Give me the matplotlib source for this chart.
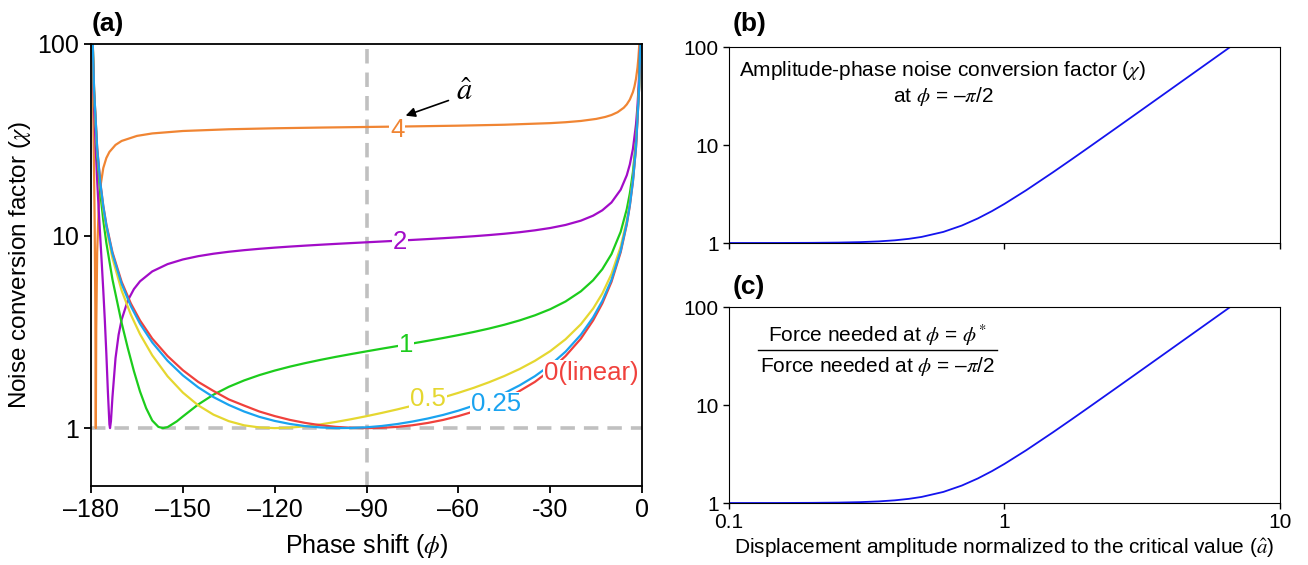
import matplotlib.pyplot as plt
from matplotlib.lines import Line2D

plt.rcParams['font.family'] = ['Liberation Sans', 'DejaVu Sans']
plt.rcParams['mathtext.fontset'] = 'stix'

# ---- panel (a): phase shift (deg) vs noise conversion factor
phi_grid = [-179.5, -179.4, -179, -178, -177, -176, -175, -173, -170, -167,
            -164, -160, -155, -150, -145, -140, -135, -130, -125, -120,
            -115, -110, -105, -100, -95, -90, -85, -80, -75, -70,
            -65, -60, -55, -50, -45, -40, -35, -30, -25, -20,
            -16, -13, -10, -7, -5, -4, -3, -2, -1, -0.6, -0.5]
chi_a0 = [114.6, 95.5, 57.3, 28.65, 19.11, 14.34, 11.47, 8.21, 5.76, 4.45,
          3.63, 2.92, 2.37, 2.00, 1.74, 1.56, 1.41, 1.31, 1.22, 1.155,
          1.103, 1.064, 1.035, 1.015, 1.004, 1.0, 1.004, 1.015, 1.035, 1.064,
          1.103, 1.155, 1.22, 1.31, 1.41, 1.56, 1.74, 2.00, 2.37, 2.92,
          3.63, 4.45, 5.76, 8.21, 11.47, 14.34, 19.11, 28.65, 57.3, 95.5, 114.6]
chi_a025 = [114.5, 95.4, 57.2, 28.5, 18.96, 14.19, 11.33, 8.06, 5.62, 4.31,
            3.49, 2.79, 2.24, 1.88, 1.63, 1.45, 1.32, 1.22, 1.144, 1.090,
            1.051, 1.024, 1.008, 1.0005, 1.0016, 1.010, 1.026, 1.050, 1.082, 1.122,
            1.171, 1.233, 1.309, 1.402, 1.519, 1.669, 1.863, 2.126, 2.498, 3.059,
            3.766, 4.585, 5.90, 8.35, 11.62, 14.48, 19.25, 28.80, 57.44, 95.6, 114.7]
chi_a05 = [114.0, 94.9, 56.7, 28.08, 18.53, 13.76, 10.90, 7.64, 5.19, 3.89,
           3.08, 2.39, 1.86, 1.53, 1.314, 1.175, 1.087, 1.034, 1.008, 1.0,
           1.006, 1.022, 1.046, 1.077, 1.113, 1.154, 1.200, 1.251, 1.308, 1.372,
           1.444, 1.526, 1.620, 1.732, 1.866, 2.030, 2.239, 2.514, 2.898, 3.469,
           4.183, 5.007, 6.326, 8.776, 12.05, 14.91, 19.68, 29.23, 57.87, 96.1, 115.2]

phi_a1 = [-179.5, -179.4, -179, -178, -177, -176, -175, -173, -170, -168,
          -166, -164, -162, -160, -158, -156.5, -155, -152, -150, -145,
          -140, -135, -130, -125, -120, -115, -110, -105, -100, -95,
          -90, -85, -80, -75, -70, -65, -60, -55, -50, -45,
          -40, -35, -30, -25, -20, -16, -13, -10, -7, -5,
          -4, -3, -2, -1, -0.6, -0.5]
chi_a1 = [112.3, 93.2, 55.0, 26.36, 16.81, 12.04, 9.19, 5.93, 3.52, 2.61,
          1.98, 1.55, 1.27, 1.095, 1.015, 1.0, 1.012, 1.084, 1.150, 1.327,
          1.493, 1.640, 1.770, 1.887, 1.992, 2.089, 2.179, 2.265, 2.348, 2.428,
          2.508, 2.589, 2.670, 2.756, 2.846, 2.941, 3.046, 3.162, 3.294, 3.448,
          3.632, 3.860, 4.154, 4.556, 5.145, 5.873, 6.706, 8.033, 10.49, 13.77,
          16.63, 21.40, 30.96, 59.60, 97.8, 116.9]

phi_a2 = [-179.5, -179.4, -179.2, -179, -178.5, -178, -177.5, -177, -176.5, -176,
          -175.5, -175, -174.5, -174, -173.8, -173.5, -173, -172, -171, -170,
          -168, -166, -164, -160, -155, -150, -145, -140, -135, -130,
          -125, -120, -115, -110, -105, -100, -95, -90, -85, -80,
          -75, -70, -65, -60, -55, -50, -45, -40, -35, -30,
          -25, -20, -16, -13, -10, -7, -5, -4, -3, -2,
          -1.5, -1, -0.7, -0.6]
chi_a2 = [105.4, 86.3, 62.4, 48.1, 29.0, 19.47, 13.74, 9.93, 7.22, 5.20,
          3.65, 2.44, 1.551, 1.048, 1.0, 1.086, 1.454, 2.312, 3.054, 3.668,
          4.605, 5.284, 5.80, 6.530, 7.126, 7.535, 7.836, 8.070, 8.261, 8.421,
          8.559, 8.681, 8.791, 8.892, 8.988, 9.079, 9.167, 9.254, 9.341, 9.429,
          9.521, 9.616, 9.718, 9.828, 9.950, 10.09, 10.25, 10.44, 10.68, 10.98,
          11.39, 11.99, 12.73, 13.57, 14.91, 17.37, 20.65, 23.52, 28.30, 37.85,
          47.40, 66.50, 91.1, 104.7]

phi_a4 = [-179.65, -179.55, -179.4, -179.2, -179, -178.8, -178.6, -178.44, -178.3, -178,
          -177.5, -177, -176, -175, -174, -172, -170, -165, -160, -150,
          -135, -120, -105, -90, -75, -60, -45, -30, -25, -20,
          -15, -12, -10, -8, -6, -5, -4, -3, -2.5, -2,
          -1.5, -1.2, -1, -0.8]
chi_a4 = [126.9, 90.5, 58.7, 34.8, 20.5, 10.99, 4.24, 1.0, 3.27, 8.22,
          13.94, 17.75, 22.52, 25.39, 27.30, 29.70, 31.14, 33.08, 34.07, 35.08,
          35.81, 36.24, 36.55, 36.81, 37.08, 37.39, 37.81, 38.54, 38.96, 39.56,
          40.54, 41.52, 42.48, 43.93, 46.32, 48.24, 51.11, 55.89, 59.71, 65.45,
          75.0, 84.55, 94.1, 108.4]

# ---- panels (b), (c): normalized amplitude
ahat = [0.1, 0.15, 0.2, 0.25, 0.3, 0.35, 0.4, 0.45, 0.5, 0.6, 0.7, 0.8, 0.9,
        1.0, 1.2, 1.5, 1.75, 2, 2.5, 3, 4, 5, 6, 7]
chi_quad = [1.0003, 1.0013, 1.0042, 1.0103, 1.0212, 1.0389, 1.0655, 1.1032, 1.1535,
            1.298, 1.507, 1.780, 2.114, 2.508, 3.460, 5.271, 7.114, 9.254, 14.41,
            20.72, 36.81, 57.51, 82.81, 112.7]
force_ratio = [1.0003, 1.0013, 1.0042, 1.0103, 1.0212, 1.0389, 1.0655, 1.1032, 1.1535,
               1.298, 1.507, 1.780, 2.114, 2.508, 3.460, 5.271, 7.114, 9.254, 14.41,
               20.72, 36.81, 57.51, 82.81, 112.7]

colors = {'0': '#f0413c', '0.25': '#1aa3f0', '0.5': '#e5d730',
          '1': '#1ccc1c', '2': '#a20cc8', '4': '#f08533'}

fig = plt.figure(figsize=(13.08, 5.65), dpi=100)

# ---------------- (a)
ax = fig.add_axes([0.0696, 0.1398, 0.4213, 0.7832])
ax.axvline(-90, color='#c0c0c0', lw=2.6, ls=(0, (4, 2.5)), zorder=1)
ax.axhline(1, color='#c0c0c0', lw=2.6, ls=(0, (4, 2.5)), zorder=1)

ax.plot(phi_a4, chi_a4, color=colors['4'], lw=1.6, zorder=2)
ax.plot(phi_a2, chi_a2, color=colors['2'], lw=1.6, zorder=2)
ax.plot(phi_a1, chi_a1, color=colors['1'], lw=1.6, zorder=2)
ax.plot(phi_grid, chi_a05, color=colors['0.5'], lw=1.6, zorder=2)
ax.plot(phi_grid, chi_a0, color=colors['0'], lw=1.6, zorder=2)
ax.plot(phi_grid, chi_a025, color=colors['0.25'], lw=1.6, zorder=2)

ax.set_yscale('log')
ax.set_xlim(-180, 0)
ax.set_ylim(0.5, 100)
ax.set_yticks([1, 10, 100])
ax.set_yticklabels(['1', '10', '100'])
ax.minorticks_off()
ax.set_xticks([-180, -150, -120, -90, -60, -30, 0])
ax.set_xticklabels(['\u2013180', '\u2013150', '\u2013120', '\u201390', '\u201360', '-30', '0'])
ax.tick_params(labelsize=18, direction='out', length=5, width=1.3)
for s in ax.spines.values():
    s.set_linewidth(1.3)
ax.set_xlabel('Phase shift ($\\phi$)', fontsize=18, labelpad=7)
ax.set_ylabel('Noise conversion factor ($\\chi$)', fontsize=17.5, labelpad=3)

bb = dict(facecolor='white', edgecolor='none', pad=0.5)
ax.text(-80.0, 35.5, '4', color=colors['4'], fontsize=18.5, ha='center', va='center', bbox=bb, zorder=3)
ax.text(-79.1, 9.3, '2', color=colors['2'], fontsize=18.5, ha='center', va='center', bbox=bb, zorder=3)
ax.text(-77.1, 2.72, '1', color=colors['1'], fontsize=18.5, ha='center', va='center', bbox=bb, zorder=3)
ax.text(-69.9, 1.42, '0.5', color=colors['0.5'], fontsize=18.5, ha='center', va='center', bbox=bb, zorder=3)
ax.text(-47.7, 1.33, '0.25', color=colors['0.25'], fontsize=18.5, ha='center', va='center', bbox=bb, zorder=3)
ax.text(-32.0, 1.93, '0(linear)', color=colors['0'], fontsize=18.5, ha='left', va='center', bbox=bb, zorder=3)

ax.annotate('', xy=(-78.1, 41.7), xytext=(-62.4, 51.1),
            arrowprops=dict(arrowstyle='-|>', color='black', lw=1.2, mutation_scale=14))
ax.text(-58.1, 56.2, '$\\hat{a}$', fontsize=22, ha='center', va='center')

# ---------------- (b)
axb = fig.add_axes([0.5573, 0.5699, 0.4213, 0.3469])
axb.plot(ahat, chi_quad, color='#1414ee', lw=1.3)
axb.set_xscale('log')
axb.set_yscale('log')
axb.set_xlim(0.1, 10)
axb.set_ylim(1, 100)
axb.set_xticks([0.1, 1, 10])
axb.set_xticklabels([])
axb.set_yticks([1, 10, 100])
axb.set_yticklabels(['1', '10', '100'])
axb.minorticks_off()
axb.tick_params(labelsize=15, direction='out', length=4, width=1.0)
axb.text(0.388, 0.880, 'Amplitude-phase noise conversion factor ($\\chi$)',
         transform=axb.transAxes, fontsize=15, ha='center', va='center')
axb.text(0.388, 0.745, 'at $\\phi$ = \u2013$\\pi$/2',
         transform=axb.transAxes, fontsize=15, ha='center', va='center')

# ---------------- (c)
axc = fig.add_axes([0.5573, 0.1097, 0.4213, 0.3469])
axc.plot(ahat, force_ratio, color='#1414ee', lw=1.3)
axc.set_xscale('log')
axc.set_yscale('log')
axc.set_xlim(0.1, 10)
axc.set_ylim(1, 100)
axc.set_xticks([0.1, 1, 10])
axc.set_xticklabels(['0.1', '1', '10'])
axc.set_yticks([1, 10, 100])
axc.set_yticklabels(['1', '10', '100'])
axc.minorticks_off()
axc.tick_params(labelsize=15, direction='out', length=4, width=1.0)
axc.set_xlabel('Displacement amplitude normalized to the critical value ($\\hat{a}$)',
               fontsize=15, labelpad=3)
axc.text(0.269, 0.857, 'Force needed at $\\phi$ = $\\phi^{*}$',
         transform=axc.transAxes, fontsize=15, ha='center', va='center')
axc.add_line(Line2D([0.0526, 0.486], [0.781, 0.781], transform=axc.transAxes,
                    color='black', lw=1.0))
axc.text(0.270, 0.699, 'Force needed at $\\phi$ = \u2013$\\pi$/2',
         transform=axc.transAxes, fontsize=15, ha='center', va='center')

fig.text(0.0703, 0.958, '(a)', fontsize=19, fontweight='bold', va='center')
fig.text(0.5604, 0.958, '(b)', fontsize=19, fontweight='bold', va='center')
fig.text(0.5604, 0.492, '(c)', fontsize=19, fontweight='bold', va='center')

fig.savefig('out.png', dpi=100)
